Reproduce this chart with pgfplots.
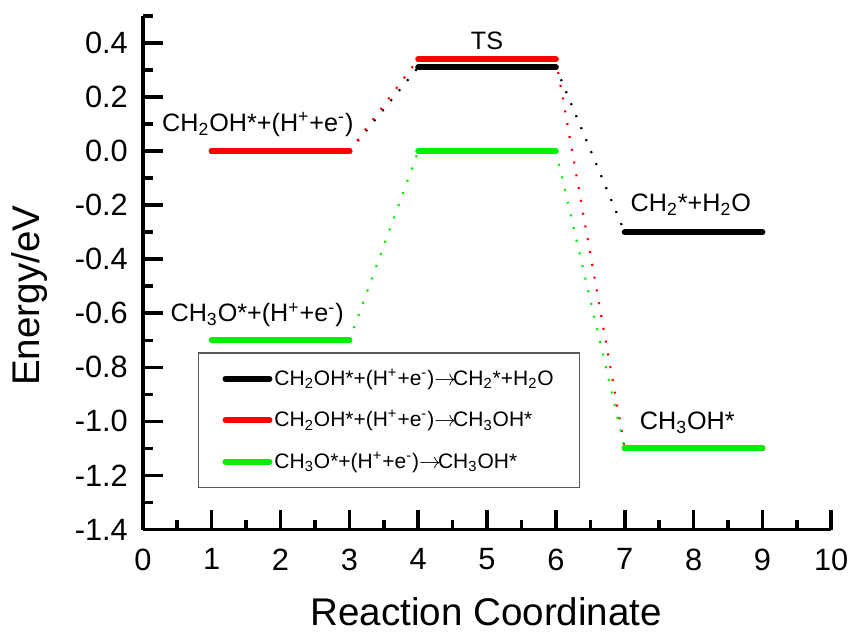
\documentclass[border=0pt]{standalone}
\usepackage{fontspec}
\setmainfont{Liberation Sans}
\usepackage{pgfplots}
\pgfplotsset{compat=1.18}

\definecolor{lgreen}{RGB}{0,240,0}
\newcommand\tsub[1]{\textsubscript{#1}}
\newcommand\tsup[1]{\textsuperscript{#1}}
\newcommand\arr{\ensuremath{\rightarrow}\kern-1.5pt}

\begin{document}
\begin{tikzpicture}
\pgfplotsset{
  level/.style={line width=3pt, line cap=round},
  conn/.style={line width=1.1pt, dash pattern=on 1pt off 5.5pt, forget plot},
}
\begin{axis}[
  scale only axis, width=344.5pt, height=257pt,
  xmin=0, xmax=10, ymin=-1.4, ymax=0.5,
  axis x line*=bottom, axis y line*=left,
  axis line style={line width=1.9pt, -},
  xtick={0,1,2,3,4,5,6,7,8,9,10},
  minor xtick={0.5,1.5,2.5,3.5,4.5,5.5,6.5,7.5,8.5,9.5},
  ytick={-1.4,-1.2,-1,-0.8,-0.6,-0.4,-0.2,0,0.2,0.4},
  minor ytick={-1.3,-1.1,-0.9,-0.7,-0.5,-0.3,-0.1,0.1,0.3,0.5},
  tick align=inside,
  major tick length=10pt, minor tick length=5pt,
  every tick/.style={line width=1.8pt, black},
  /pgf/number format/assume math mode=true,
  yticklabel style={/pgf/number format/fixed, /pgf/number format/fixed zerofill,
    /pgf/number format/precision=1, xshift=-4pt},
  xticklabel style={yshift=-6pt},
  tick label style={font=\fontsize{15.4}{18}\selectfont},
  label style={font=\fontsize{19.3}{23}\selectfont},
  xlabel={Reaction Coordinate},
  ylabel={Energy/eV},
  xlabel style={at={(axis description cs:0.499,-0.161)}, anchor=center},
  ylabel style={at={(axis description cs:-0.165,0.455)}, anchor=center},
  clip=false,
  legend style={at={(axis cs:0.8,-0.745)}, anchor=north west,
    draw=gray!70!black, line width=0.6pt, fill=white,
    font=\fontsize{10.5}{12}\selectfont,
    inner xsep=12pt, inner ysep=7pt, row sep=9pt,
    nodes={inner sep=1pt}},
  legend cell align=left,
  legend image code/.code={\draw[#1, solid, line width=3pt, line cap=round] (0pt,0pt) -- (22pt,0pt);},
]
% black: CH2OH* -> CH2* + H2O
\addplot[black, level] coordinates {(1,0) (3,0)};
\addlegendentry{CH\tsub{2}OH*+(H\tsup{+}+e\tsup{-})\arr CH\tsub{2}*+H\tsub{2}O}
\addplot[black, level, forget plot] coordinates {(4,0.31) (6,0.31)};
\addplot[black, level, forget plot] coordinates {(7,-0.30) (9,-0.30)};
\addplot[black, conn] coordinates {(3,0) (4,0.31)};
\addplot[black, conn] coordinates {(6,0.31) (7,-0.30)};

% red: CH2OH* -> CH3OH*
\addplot[red, level] coordinates {(1,0) (3,0)};
\addlegendentry{CH\tsub{2}OH*+(H\tsup{+}+e\tsup{-})\arr CH\tsub{3}OH*}
\addplot[red, level, forget plot] coordinates {(4,0.34) (6,0.34)};
\addplot[red, level, forget plot] coordinates {(7,-1.10) (9,-1.10)};
\addplot[red, conn] coordinates {(3,0) (4,0.34)};
\addplot[red, conn] coordinates {(6,0.34) (7,-1.10)};

% green: CH3O* -> CH3OH*
\addplot[lgreen, level] coordinates {(1,-0.70) (3,-0.70)};
\addlegendentry{CH\tsub{3}O*+(H\tsup{+}+e\tsup{-})\arr CH\tsub{3}OH*}
\addplot[lgreen, level, forget plot] coordinates {(4,0) (6,0)};
\addplot[lgreen, level, forget plot] coordinates {(7,-1.10) (9,-1.10)};
\addplot[lgreen, conn] coordinates {(3,-0.70) (4,0)};
\addplot[lgreen, conn] coordinates {(6,0) (7,-1.10)};

\begin{scope}[every node/.style={font=\fontsize{12.6}{15}\selectfont, anchor=base}]
\node at (axis cs:1.67,0.074) {CH\tsub{2}OH*+(H\tsup{+}+e\tsup{-})};
\node at (axis cs:1.66,-0.632) {CH\tsub{3}O*+(H\tsup{+}+e\tsup{-})};
\node at (axis cs:5.0,0.375) {TS};
\node at (axis cs:7.96,-0.224) {CH\tsub{2}*+H\tsub{2}O};
\node at (axis cs:7.91,-1.03) {CH\tsub{3}OH*};
\end{scope}
\end{axis}
\path (-71.5pt,-51pt) rectangle (356pt,265pt);
\end{tikzpicture}
\end{document}
